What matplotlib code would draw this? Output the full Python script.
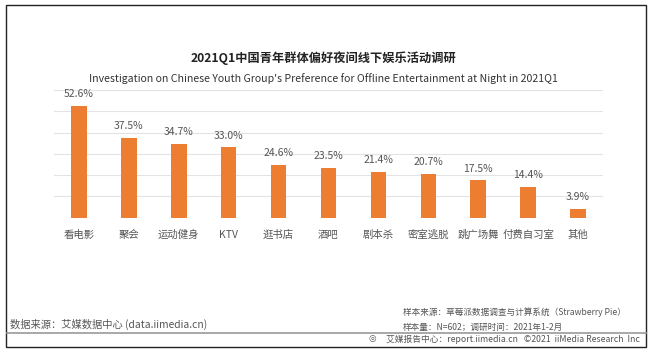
import matplotlib
matplotlib.use("Agg")
import matplotlib.pyplot as plt
from matplotlib.patches import Rectangle
from matplotlib.lines import Line2D

plt.rcParams['font.family'] = ['Noto Sans CJK SC', 'DejaVu Sans']

categories = ["看电影", "聚会", "运动健身", "KTV", "逛书店", "酒吧", "剧本杀", "密室逃脱", "跳广场舞", "付费自习室", "其他"]
values = [52.6, 37.5, 34.7, 33.0, 24.6, 23.5, 21.4, 20.7, 17.5, 14.4, 3.9]
labels = [f"{v:.1f}%" for v in values]

W, H = 653, 355
fig = plt.figure(figsize=(W / 100, H / 100), dpi=100)
fig.patch.set_facecolor("white")

def fx(x):
    return x / W

def fy(y):
    return 1 - y / H

# axes: x 54..603, y baseline 217.7, top (60) at 90
ax = fig.add_axes([fx(54), fy(217.7), fx(603) - fx(54), fy(90) - fy(217.7)])
x = range(len(categories))
ax.bar(x, values, width=0.31, color="#ED7D31", zorder=3)
ax.set_xlim(-0.5, len(categories) - 0.5)
ax.set_ylim(0, 60)
ax.set_yticks(range(0, 61, 10))
ax.yaxis.grid(True, color="#E3E3E3", linewidth=0.8, zorder=0)
ax.tick_params(axis="y", left=False, labelleft=False)
ax.tick_params(axis="x", bottom=False, pad=5, labelsize=7.5, labelcolor="#555555")
ax.set_xticks(list(x))
ax.set_xticklabels(categories)
for s in ax.spines.values():
    s.set_visible(False)
for xi, v, lab in zip(x, values, labels):
    ax.annotate(lab, (xi, v), xytext=(0, 5), textcoords="offset points",
                ha="center", va="bottom", fontsize=7.5, color="#555555")

# titles
fig.text(fx(323), fy(58), "2021Q1中国青年群体偏好夜间线下娱乐活动调研", ha="center", va="center",
         fontsize=8.8, fontweight="bold", color="#222222")
fig.text(fx(323), fy(79), "Investigation on Chinese Youth Group's Preference for Offline Entertainment at Night in 2021Q1",
         ha="center", va="center", fontsize=7.6, color="#333333")

# footer
fig.text(fx(10), fy(324), "数据来源：艾媒数据中心 (data.iimedia.cn)", ha="left", va="center",
         fontsize=7.4, color="#555555")
fig.text(fx(403), fy(312), "样本来源：草莓派数据调查与计算系统（Strawberry Pie）", ha="left", va="center",
         fontsize=6.2, color="#555555")
fig.text(fx(403), fy(327), "样本量：N=602；调研时间：2021年1-2月", ha="left", va="center",
         fontsize=6.2, color="#555555")
fig.text(fx(640), fy(339), "艾媒报告中心：report.iimedia.cn   ©2021  iiMedia Research  Inc", ha="right", va="center",
         fontsize=6.3, color="#555555")
fig.text(fx(376), fy(339), "◎", ha="right", va="center", fontsize=6.3, color="#555555",
         family=["DejaVu Sans"])

# separator and border
fig.add_artist(Line2D([fx(7), fx(646)], [fy(333), fy(333)], color="#999999", linewidth=1.2))
fig.add_artist(Rectangle((fx(6), fy(347)), fx(646) - fx(6), fy(5) - fy(347), fill=False,
                         edgecolor="#222222", linewidth=1.0, transform=fig.transFigure))

fig.savefig("out.png", dpi=100)
